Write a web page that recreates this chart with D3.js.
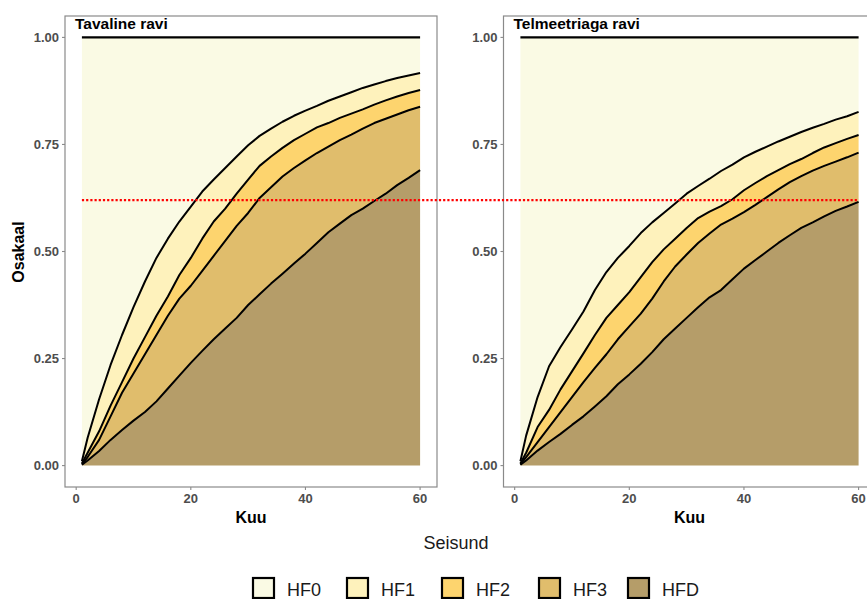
<!DOCTYPE html>
<html>
<head>
<meta charset="utf-8">
<script src="https://cdn.jsdelivr.net/npm/d3@7"></script>
<style>
  body { margin: 0; background: #fff; }
  svg { display: block; font-family: "Liberation Sans", Arial, Helvetica, sans-serif; }
</style>
</head>
<body>
<div id="chart"></div>
<script>
var months = [1, 2, 4, 6, 8, 10, 12, 14, 16, 18, 20, 22, 24, 26, 28, 30, 32, 34, 36, 38, 40, 42, 44, 46, 48, 50, 52, 54, 56, 58, 60];

var states = ["HF0", "HF1", "HF2", "HF3", "HFD"];
var stateColors = ["#FAFAE4", "#FEF2BC", "#FDD46E", "#E0BD6C", "#B59D69"];

// cumulative shares (from the bottom: HFD, +HF3, +HF2, +HF1); HF0 fills up to 1
var tavHFD = [0.002, 0.012, 0.034, 0.06, 0.083, 0.105, 0.125, 0.15, 0.18, 0.21, 0.24, 0.268, 0.295, 0.32, 0.345, 0.375, 0.4, 0.425, 0.448, 0.472, 0.495, 0.52, 0.545, 0.565, 0.585, 0.6, 0.618, 0.635, 0.655, 0.672, 0.69];
var tavHF3 = [0.003, 0.02, 0.06, 0.115, 0.17, 0.215, 0.26, 0.305, 0.35, 0.39, 0.42, 0.455, 0.49, 0.525, 0.56, 0.59, 0.625, 0.65, 0.675, 0.695, 0.713, 0.73, 0.745, 0.76, 0.773, 0.787, 0.8, 0.81, 0.82, 0.83, 0.838];
var tavHF2 = [0.005, 0.03, 0.08, 0.14, 0.195, 0.25, 0.3, 0.35, 0.395, 0.445, 0.485, 0.53, 0.57, 0.6, 0.635, 0.668, 0.7, 0.722, 0.742, 0.76, 0.775, 0.79, 0.8, 0.812, 0.822, 0.832, 0.843, 0.853, 0.862, 0.87, 0.877];
var tavHF1 = [0.01, 0.065, 0.155, 0.235, 0.305, 0.37, 0.43, 0.485, 0.53, 0.57, 0.605, 0.64, 0.668, 0.695, 0.722, 0.748, 0.77, 0.787, 0.803, 0.817, 0.829, 0.84, 0.852, 0.862, 0.872, 0.882, 0.89, 0.898, 0.905, 0.911, 0.917];

var telHFD = [0.002, 0.012, 0.035, 0.055, 0.074, 0.095, 0.115, 0.138, 0.162, 0.19, 0.213, 0.238, 0.265, 0.295, 0.32, 0.345, 0.37, 0.393, 0.41, 0.435, 0.46, 0.48, 0.5, 0.52, 0.538, 0.555, 0.568, 0.582, 0.595, 0.605, 0.616];
var telHF3 = [0.003, 0.02, 0.055, 0.09, 0.125, 0.16, 0.195, 0.228, 0.26, 0.295, 0.325, 0.355, 0.39, 0.43, 0.465, 0.493, 0.52, 0.542, 0.563, 0.577, 0.592, 0.609, 0.627, 0.645, 0.662, 0.676, 0.689, 0.7, 0.71, 0.72, 0.731];
var telHF2 = [0.005, 0.03, 0.09, 0.13, 0.178, 0.22, 0.262, 0.305, 0.345, 0.375, 0.405, 0.44, 0.475, 0.505, 0.53, 0.555, 0.578, 0.593, 0.606, 0.622, 0.643, 0.66, 0.676, 0.69, 0.704, 0.716, 0.73, 0.743, 0.753, 0.763, 0.772];
var telHF1 = [0.01, 0.07, 0.16, 0.232, 0.277, 0.318, 0.36, 0.41, 0.452, 0.485, 0.513, 0.543, 0.568, 0.59, 0.612, 0.635, 0.653, 0.67, 0.688, 0.703, 0.72, 0.733, 0.745, 0.757, 0.768, 0.779, 0.789, 0.798, 0.808, 0.816, 0.826];

var panelTitles = ["Tavaline ravi", "Telmeetriaga ravi"];
var xTicks = [0, 20, 40, 60];
var yTicks = [0, 0.25, 0.5, 0.75, 1];
var threshold = 0.62;

var width = 867, height = 599;
var svg = d3.select("#chart").append("svg").attr("width", width).attr("height", height);

var panelTop = 16, panelBottom = 487, panelW = 372;
var panelLefts = [65, 503.5];

// ggplot style 5% expansion
var x0 = 1 - 0.05 * 59, x1 = 60 + 0.05 * 59;
var y = d3.scaleLinear().domain([-0.05, 1.05]).range([panelBottom, panelTop]);

var panels = [
  { title: panelTitles[0], bounds: [tavHFD, tavHF3, tavHF2, tavHF1] },
  { title: panelTitles[1], bounds: [telHFD, telHF3, telHF2, telHF1] }
];

var grey = "#4D4D4D";
var xs = [];

panels.forEach(function (p, pi) {
  var left = panelLefts[pi];
  var x = d3.scaleLinear().domain([x0, x1]).range([left, left + panelW]);
  xs.push(x);
  var g = svg.append("g");

  // rows: lower/upper boundary for each state
  var rows = months.map(function (m, i) {
    var hfd = p.bounds[0][i], hf3 = p.bounds[1][i], hf2 = p.bounds[2][i], hf1 = p.bounds[3][i];
    return { m: m, levels: [0, hfd, hf3, hf2, hf1, 1] };
  });

  // states from bottom: HFD(4), HF3(3), HF2(2), HF1(1), HF0(0)
  for (var k = 0; k < 5; k++) {
    var si = 4 - k;
    var area = d3.area()
      .x(function (d) { return x(d.m); })
      .y0((function (kk) { return function (d) { return y(d.levels[kk]); }; })(k))
      .y1((function (kk) { return function (d) { return y(d.levels[kk + 1]); }; })(k));
    g.append("path").datum(rows).attr("d", area).attr("fill", stateColors[si]);
  }

  // boundary lines
  for (var b = 1; b <= 5; b++) {
    var line = d3.line()
      .x(function (d) { return x(d.m); })
      .y((function (bb) { return function (d) { return y(d.levels[bb]); }; })(b));
    g.append("path").datum(rows).attr("d", line)
      .attr("fill", "none").attr("stroke", "#000").attr("stroke-width", b === 5 ? 2.2 : 2)
      .attr("stroke-linejoin", "round");
  }

  // panel border
  g.append("rect").attr("x", left).attr("y", panelTop).attr("width", panelW).attr("height", panelBottom - panelTop)
    .attr("fill", "none").attr("stroke", "#8a8a8a").attr("stroke-width", 1.2);

  // ticks
  g.selectAll(".yt").data(yTicks).enter().append("line")
    .attr("x1", left - 3).attr("x2", left).attr("y1", function (d) { return y(d); }).attr("y2", function (d) { return y(d); })
    .attr("stroke", "#8a8a8a").attr("stroke-width", 1.1);
  g.selectAll(".ytl").data(yTicks).enter().append("text")
    .attr("x", left - 6).attr("y", function (d) { return y(d); }).attr("dy", "0.35em")
    .attr("text-anchor", "end").attr("font-size", 13).attr("font-weight", "bold").attr("fill", grey)
    .text(function (d) { return d3.format(".2f")(d); });
  g.selectAll(".xt").data(xTicks).enter().append("line")
    .attr("x1", function (d) { return x(d); }).attr("x2", function (d) { return x(d); })
    .attr("y1", panelBottom).attr("y2", panelBottom + 3)
    .attr("stroke", "#8a8a8a").attr("stroke-width", 1.1);
  g.selectAll(".xtl").data(xTicks).enter().append("text")
    .attr("x", function (d) { return x(d); }).attr("y", 503)
    .attr("text-anchor", "middle").attr("font-size", 13).attr("font-weight", "bold").attr("fill", grey)
    .text(function (d) { return d; });

  // titles
  g.append("text").attr("x", left + 10).attr("y", 29)
    .attr("font-size", 15.5).attr("font-weight", "bold").attr("fill", "#000").text(p.title);
  g.append("text").attr("x", left + panelW / 2).attr("y", 523).attr("text-anchor", "middle")
    .attr("font-size", 16).attr("font-weight", "bold").attr("fill", "#000").text("Kuu");
});

// y axis title
svg.append("text").attr("transform", "translate(24,252) rotate(-90)").attr("text-anchor", "middle")
  .attr("font-size", 16).attr("font-weight", "bold").attr("fill", "#000").text("Osakaal");

// red dotted reference line across both panels
svg.append("line")
  .attr("x1", xs[0](1)).attr("x2", xs[1](60))
  .attr("y1", y(threshold)).attr("y2", y(threshold))
  .attr("stroke", "#FF0000").attr("stroke-width", 2.2).attr("stroke-dasharray", "2.2,2");

// legend
svg.append("text").attr("x", 456).attr("y", 549).attr("text-anchor", "middle")
  .attr("font-size", 18).attr("fill", "#1a1a1a").text("Seisund");

var legendX = [252, 346, 441, 538, 627];
var lg = svg.append("g");
states.forEach(function (s, i) {
  lg.append("rect").attr("x", legendX[i] + 1).attr("y", 578).attr("width", 21).attr("height", 20)
    .attr("fill", stateColors[i]).attr("stroke", "#000").attr("stroke-width", 2.2);
  lg.append("text").attr("x", legendX[i] + 35).attr("y", 596)
    .attr("font-size", 18).attr("fill", "#1a1a1a").text(s);
});
</script>
</body>
</html>
